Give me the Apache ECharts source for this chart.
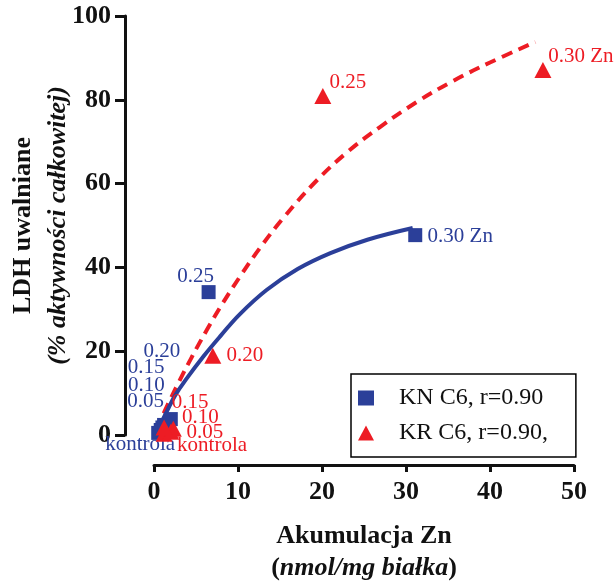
<!DOCTYPE html>
<html>
<head>
<meta charset="utf-8">
<script src="https://cdn.jsdelivr.net/npm/echarts@6/dist/echarts.min.js"></script>
<style>html,body{margin:0;padding:0;background:#fff}#c{width:616px;height:583px}</style>
</head>
<body>
<div id="c"></div>
<script>
// ---- data ----
var xTicks = [0, 10, 20, 30, 40, 50];
var yTicks = [0, 20, 40, 60, 80, 100];

var knLabels = ['kontrola', '0.05', '0.10', '0.15', '0.20', '0.25', '0.30 Zn'];
var knX = [0.5, 0.8, 1.0, 1.2, 2.0, 6.5, 31.1];
var knY = [0.5, 1.2, 1.8, 2.4, 3.8, 34.1, 47.7];

var krLabels = ['kontrola', '0.05', '0.10', '0.15', '0.20', '0.25', '0.30 Zn'];
var krX = [1.2, 2.0, 2.3, 1.2, 7.0, 20.1, 46.3];
var krY = [0.3, 0.8, 1.5, 1.8, 18.9, 80.9, 87.1];

// fitted curves, points
var knCurveX = [0.4, 1.5, 2.5, 3.9, 5.9, 7.9, 10.2, 13.4, 17.1, 21.0, 25.4, 30.8];
var knCurveY = [1.2, 5.5, 9.4, 13.5, 18.8, 23.6, 28.8, 34.6, 39.6, 43.4, 46.6, 49.4];
var krCurveX = [0.3, 1.3, 2.9, 4.5, 6.3, 8.2, 10.2, 12.6, 15.4, 19.4, 23.0, 26.9, 31.3, 35.6, 40.0, 45.4];
var krCurveY = [1.2, 5.8, 12.4, 18.6, 25.1, 31.5, 37.7, 44.6, 51.8, 60.8, 67.5, 73.5, 79.5, 84.5, 88.9, 93.8];

var knName = 'KN C6, r=0.90';
var krName = 'KR C6, r=0.90,';

// ---- styling (label offsets in px) ----
var knOffsets = [[-18, 12], [-15, -28], [-16, -42], [-18, -57], [-9, -68], [-13, -16], [45, 1]];
var krOffsets = [[48, 12], [34, 1], [27, -11], [26, -25], [32, 0], [25, -14], [38, -14]];
var BLUE = '#2B3F99';
var RED = '#ED1C24';
var FONT = 'Liberation Serif';

function zip(xs, ys) { return xs.map(function (x, i) { return [x, ys[i]]; }); }
function labelled(xs, ys, names, offs, color) {
  return xs.map(function (x, i) {
    return {
      value: [x, ys[i]],
      name: names[i],
      label: {
        show: true, position: 'inside', offset: offs[i],
        formatter: names[i], color: color,
        fontFamily: FONT, fontSize: 21
      }
    };
  });
}

var chart = echarts.init(document.getElementById('c'), null, { renderer: 'canvas' });
chart.setOption({
  animation: false,
  backgroundColor: '#fff',
  grid: { left: 154, right: 42, top: 16, bottom: 148, containLabel: false, outerBoundsMode: 'none' },
  legend: {
    orient: 'vertical', left: 351, top: 374,
    padding: [12, 28, 12, 7],
    itemWidth: 16, itemHeight: 15, itemGap: 11,
    borderColor: '#000', borderWidth: 1.5, backgroundColor: '#fff',
    textStyle: { fontFamily: FONT, fontSize: 24, color: '#111', lineHeight: 24, padding: [0, 0, 0, 20] },
    data: [
      { name: knName, icon: 'rect' },
      { name: krName, icon: 'triangle' }
    ]
  },
  xAxis: {
    type: 'value', min: 0, max: 50, interval: 10,
    offset: 30,
    axisLine: { show: true, onZero: false, lineStyle: { color: '#111', width: 3 } },
    axisTick: { show: true, length: 7, lineStyle: { color: '#111', width: 3 } },
    splitLine: { show: false },
    axisLabel: {
      margin: 14, color: '#111', fontFamily: FONT, fontSize: 26, fontWeight: 'bold',
      customValues: xTicks
    },
    name: '{b|Akumulacja Zn}\n{b|(}{bi|nmol/mg białka}{b|)}',
    nameLocation: 'middle', nameGap: 55,
    nameTextStyle: {
      color: '#111', fontFamily: FONT, fontSize: 26, lineHeight: 32, verticalAlign: 'top',
      rich: {
        b: { fontFamily: FONT, fontSize: 26, fontWeight: 'bold', color: '#111', lineHeight: 32 },
        bi: { fontFamily: FONT, fontSize: 26, fontWeight: 'bold', fontStyle: 'italic', color: '#111', lineHeight: 32 }
      }
    }
  },
  yAxis: {
    type: 'value', min: 0, max: 100, interval: 20,
    offset: 29,
    axisLine: { show: true, onZero: false, lineStyle: { color: '#111', width: 3 } },
    axisTick: { show: true, length: 10, lineStyle: { color: '#111', width: 3 } },
    splitLine: { show: false },
    axisLabel: {
      margin: 14, color: '#111', fontFamily: FONT, fontSize: 26, fontWeight: 'bold',
      customValues: yTicks
    },
    name: '{b|LDH uwalniane}\n{bi|(% aktywności całkowitej)}',
    nameLocation: 'middle', nameRotate: 90, nameGap: 49, nameMoveOverlap: false,
    nameTextStyle: {
      color: '#111', fontFamily: FONT, fontSize: 26, lineHeight: 35,
      rich: {
        b: { fontFamily: FONT, fontSize: 26, fontWeight: 'bold', color: '#111', lineHeight: 35 },
        bi: { fontFamily: FONT, fontSize: 26, fontWeight: 'bold', fontStyle: 'italic', color: '#111', lineHeight: 35 }
      }
    }
  },
  series: [
    {
      name: 'KR fit', type: 'line', data: zip(krCurveX, krCurveY),
      smooth: 0.4, showSymbol: false, symbol: 'none', silent: true,
      lineStyle: { color: RED, width: 4, type: [11, 7] }, z: 2
    },
    {
      name: 'KN fit', type: 'line', data: zip(knCurveX, knCurveY),
      smooth: 0.4, showSymbol: false, symbol: 'none', silent: true,
      lineStyle: { color: BLUE, width: 4 }, z: 3
    },
    {
      name: knName, type: 'scatter', symbol: 'rect', symbolSize: 14,
      itemStyle: { color: BLUE, opacity: 1 }, z: 4,
      data: labelled(knX, knY, knLabels, knOffsets, BLUE)
    },
    {
      name: krName, type: 'scatter', symbol: 'triangle', symbolSize: [17, 16],
      itemStyle: { color: RED, opacity: 1 }, z: 5,
      data: labelled(krX, krY, krLabels, krOffsets, RED)
    }
  ]
});
</script>
</body>
</html>
